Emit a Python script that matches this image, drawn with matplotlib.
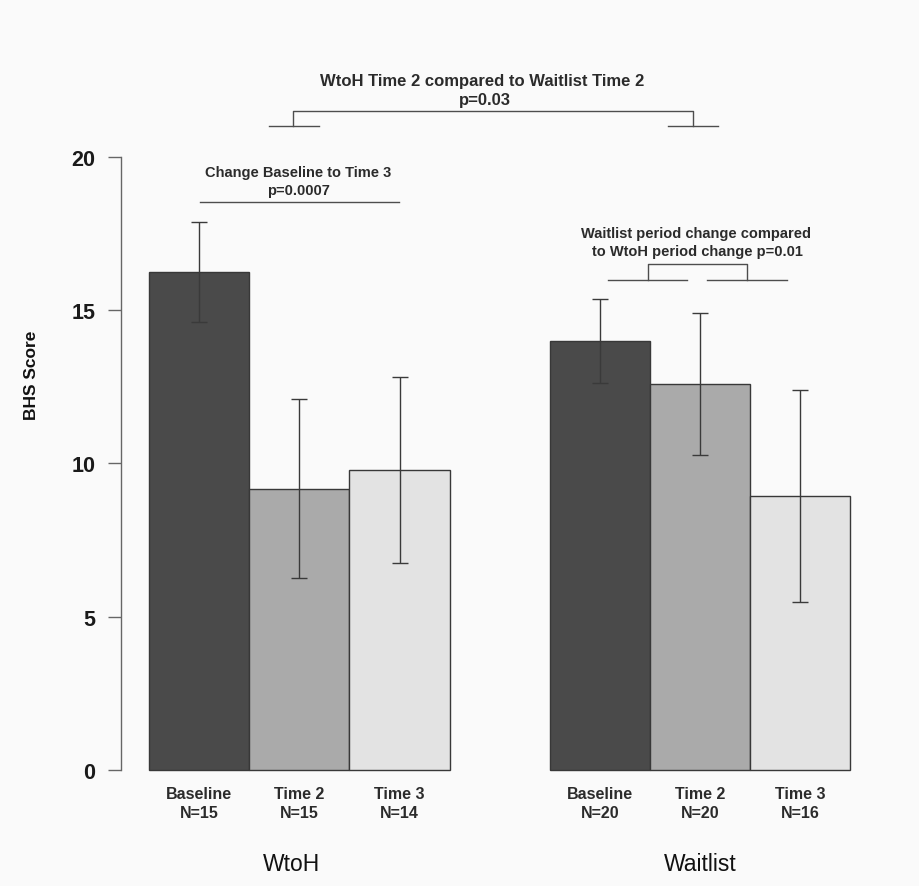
import numpy as np
import matplotlib
matplotlib.use("Agg")
import matplotlib.pyplot as plt

plt.rcParams['font.family'] = ['Liberation Sans', 'DejaVu Sans']

# data
groups = ['WtoH', 'Waitlist']
timepoints = ['Baseline', 'Time 2', 'Time 3']
wtoh_means = [16.25, 9.18, 9.79]
wtoh_err = [1.64, 2.92, 3.03]
wtoh_n = [15, 15, 14]
waitlist_means = [13.99, 12.59, 8.93]
waitlist_err = [1.37, 2.33, 3.47]
waitlist_n = [20, 20, 16]
yticks = [0, 5, 10, 15, 20]

bar_colors = ['#4a4a4a', '#aaaaaa', '#e3e3e3']
line_col = '#4d4d4d'
text_col = '#2b2b2b'
bg = '#fafafa'

fig = plt.figure(figsize=(9.2, 8.87), dpi=100, facecolor=bg)
ax = fig.add_axes([0.1318, 0.1139, 0.8225, 0.8285], facecolor=bg)

means = [wtoh_means, waitlist_means]
errs = [wtoh_err, waitlist_err]
ns = [wtoh_n, waitlist_n]

for g in range(len(groups)):
    x = np.arange(len(timepoints)) + 1.5 + 4 * g
    ax.bar(x, means[g], width=1.0, color=bar_colors, edgecolor='#383838',
           linewidth=1.0, zorder=2)
    ax.errorbar(x, means[g], yerr=errs[g], fmt='none', ecolor='#3a3a3a',
                elinewidth=1.0, capsize=5.5, capthick=1.0, zorder=3)
    for i, t in enumerate(timepoints):
        ax.text(x[i], -0.79, t, ha='center', va='center', fontsize=11.5,
                fontweight='bold', color=text_col)
        ax.text(x[i], -1.39, f'N={ns[g][i]}', ha='center', va='center',
                fontsize=11.5, fontweight='bold', color=text_col)
    ax.text(x.mean() - (0.08 if g == 0 else 0), -3.05, groups[g], ha='center',
            va='center', fontsize=16.5, color='#111111')

ax.set_xlim(0.72, 8.28)
ax.set_ylim(-0.5, 23.5)

# axis styling, R like
for s in ['top', 'right', 'bottom']:
    ax.spines[s].set_visible(False)
ax.spines['left'].set_bounds(0, 20)
ax.spines['left'].set_color('#666666')
ax.spines['left'].set_linewidth(1.0)
ax.set_xticks([])
ax.set_yticks(yticks)
ax.set_yticklabels([str(v) for v in yticks], fontsize=15.5, fontweight='bold',
                   color='#1a1a1a')
ax.tick_params(axis='y', length=9.5, width=1.0, color='#666666', pad=9)

ax.text(-0.119, 12.9, 'BHS Score', rotation=90, ha='center', va='center',
        fontsize=12.5, fontweight='bold', color='#111111',
        transform=ax.get_yaxis_transform())

lw = 1.0
# WtoH Time 2 vs Waitlist Time 2
ax.plot([2.44, 2.44, 6.43, 6.43], [21.02, 21.52, 21.52, 21.02], color=line_col, lw=lw)
ax.plot([2.20, 2.70], [21.02, 21.02], color=line_col, lw=lw)
ax.plot([6.18, 6.68], [21.02, 21.02], color=line_col, lw=lw)
ax.text(4.33, 22.52, 'WtoH Time 2 compared to Waitlist Time 2', ha='center',
        va='center', fontsize=12, fontweight='bold', color=text_col)
ax.text(4.35, 21.9, 'p=0.03', ha='center', va='center', fontsize=12,
        fontweight='bold', color=text_col)

# WtoH baseline to time 3
ax.plot([1.505, 3.49], [18.53, 18.53], color=line_col, lw=lw)
ax.text(2.49, 19.51, 'Change Baseline to Time 3', ha='center', va='center',
        fontsize=10.5, fontweight='bold', color=text_col)
ax.text(2.49, 18.93, 'p=0.0007', ha='center', va='center', fontsize=10.5,
        fontweight='bold', color=text_col)

# period change comparison
ax.plot([5.98, 5.98, 6.97, 6.97], [16.0, 16.52, 16.52, 16.0], color=line_col, lw=lw)
ax.plot([5.58, 6.37], [16.0, 16.0], color=line_col, lw=lw)
ax.plot([6.57, 7.37], [16.0, 16.0], color=line_col, lw=lw)
ax.text(6.46, 17.53, 'Waitlist period change compared', ha='center',
        va='center', fontsize=10.5, fontweight='bold', color=text_col)
ax.text(6.48, 16.95, 'to WtoH period change p=0.01', ha='center',
        va='center', fontsize=10.5, fontweight='bold', color=text_col)

fig.savefig('out.png', dpi=100, facecolor=bg)
